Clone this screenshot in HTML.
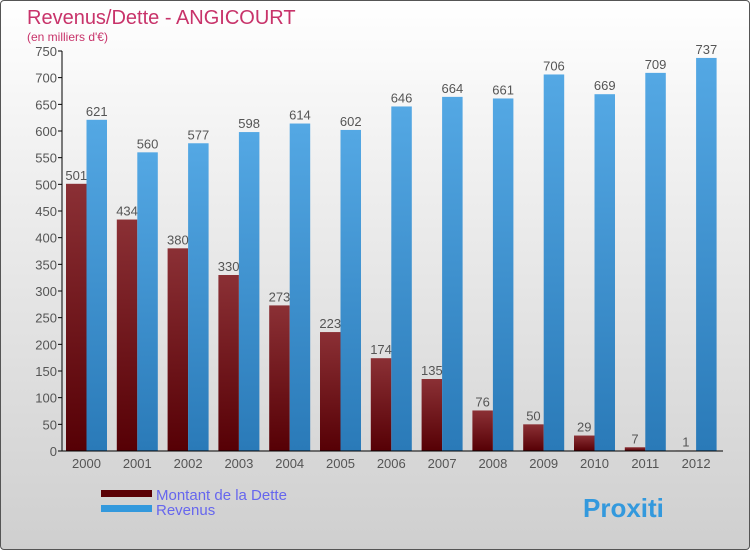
<!DOCTYPE html>
<html><head><meta charset="utf-8"><style>
body{margin:0;}
#wrap{position:relative;width:748px;height:548px;border:1px solid #555;border-radius:4px;background:linear-gradient(#ffffff,#f0f0f0 30%,#cfcfcf);overflow:hidden;font-family:"Liberation Sans",sans-serif;}
</style></head><body>
<div id="wrap">
<svg id="chart" width="748" height="548"></svg>
</div>
<script>
const years=["2000","2001","2002","2003","2004","2005","2006","2007","2008","2009","2010","2011","2012"];
const dette=[501,434,380,330,273,223,174,135,76,50,29,7,1];
const revenus=[621,560,577,598,614,602,646,664,661,706,669,709,737];
const yTicks=[0,50,100,150,200,250,300,350,400,450,500,550,600,650,700,750];
const NS="http://www.w3.org/2000/svg";
const svg=document.getElementById('chart');
const x0=61,y0=450,band=50.8,bw=20.5;
const yS=v=>y0-v*400/750;
const xS=i=>x0+4+i*band;
function mk(t,a,txt){const e=document.createElementNS(NS,t);for(const k in a)e.setAttribute(k,a[k]);if(txt!==undefined)e.textContent=txt;svg.appendChild(e);return e;}
const defs=mk('defs',{});
defs.innerHTML='<linearGradient id="gr" x1="0" y1="0" x2="0" y2="1"><stop offset="0" stop-color="#54a8e4"/><stop offset="1" stop-color="#2a7ab8"/></linearGradient><linearGradient id="gd" x1="0" y1="0" x2="0" y2="1"><stop offset="0" stop-color="#8b3035"/><stop offset="1" stop-color="#560005"/></linearGradient>';
let t=mk('text',{x:26,y:23,'font-size':20,fill:'#c8336a'},'Revenus/Dette - ANGICOURT');

t=mk('text',{x:26,y:40,'font-size':12,fill:'#c8336a'},"(en milliers d'€)");

yTicks.forEach(v=>{
  const y=yS(v);
  let l=mk('line',{x1:x0-4,x2:x0,y1:y,y2:y,stroke:'#000'});
  
  let tx=mk('text',{x:x0-5,y:y+5,'font-size':13,fill:'#555','text-anchor':'end'},v);
  
});
years.forEach((yr,i)=>{
  const x=xS(i);
  let r=mk('rect',{x:x,y:yS(dette[i]),width:bw,height:y0-yS(dette[i]),fill:'url(#gd)'});
  
  r=mk('rect',{x:x+bw,y:yS(revenus[i]),width:bw,height:y0-yS(revenus[i]),fill:'url(#gr)'});
  
  let a=mk('text',{x:x+bw/2,y:yS(dette[i])-4,'font-size':13,fill:'#555','text-anchor':'middle'},dette[i]);
  
  a=mk('text',{x:x+bw*1.5,y:yS(revenus[i])-4,'font-size':13,fill:'#555','text-anchor':'middle'},revenus[i]);
  
  a=mk('text',{x:x+bw,y:467,'font-size':13,fill:'#555','text-anchor':'middle'},yr);
  
});
let ax=mk('line',{x1:x0,x2:x0,y1:yS(750),y2:y0,stroke:'#000'});

ax=mk('line',{x1:x0,x2:722,y1:y0,y2:y0,stroke:'#000'});

let g=mk('rect',{x:100,y:489,width:51,height:7,fill:'#5a0005'});

g=mk('rect',{x:100,y:504,width:51,height:7,fill:'#3399dd'});

g=mk('text',{x:155,y:499,'font-size':15,fill:'#6666ee'},'Montant de la Dette');

g=mk('text',{x:155,y:514,'font-size':15,fill:'#6666ee'},'Revenus');

g=mk('text',{x:582,y:516,'font-size':26,'font-weight':'bold',fill:'#3399dd'},'Proxiti');

</script>
</body></html>
